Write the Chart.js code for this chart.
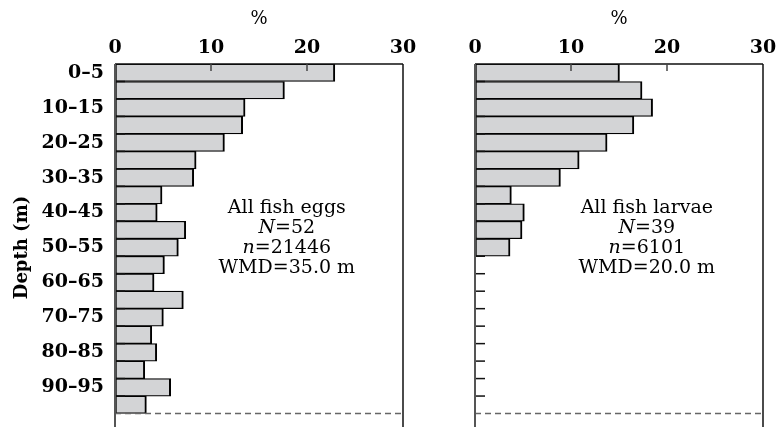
<!DOCTYPE html>
<html lang="en">
<head>
    <meta charset="UTF-8">
    <title>Fish eggs and larvae by depth</title>
    <script src="https://cdn.jsdelivr.net/npm/chart.js"></script>
</head>
<body style="margin:0;overflow:hidden;background:#fff">
    <div style="position:relative;width:776px;height:427px;overflow:hidden">
        <canvas id="eggsChart" width="420" height="431" style="position:absolute;left:0;top:0"></canvas>
        <canvas id="larvaeChart" width="356" height="431" style="position:absolute;left:420px;top:0"></canvas>
    </div>
    <script>
        // depth classes (m), last one is the empty row cut off below the dashed line
        var depthLabels = ['0–5', '5–10', '10–15', '15–20', '20–25', '25–30', '30–35', '35–40', '40–45', '45–50',
                           '50–55', '55–60', '60–65', '65–70', '70–75', '75–80', '80–85', '85–90', '90–95', '95–100', ''];
        // % of catch per depth class
        var eggsPct   = [22.9, 17.65, 13.55, 13.3, 11.4, 8.45, 8.2, 4.9, 4.4, 7.37,
                         6.6, 5.15, 4.07, 7.12, 5.04, 3.83, 4.35, 3.1, 5.8, 3.27, null];
        var larvaePct = [15.05, 17.4, 18.5, 16.55, 13.76, 10.85, 8.9, 3.79, 5.14, 4.9,
                         3.65, null, null, null, null, null, null, null, null, null, null];
        var xTicks = [0, 10, 20, 30];
        var eggsNote   = [[['All fish eggs', 'normal']], [['N', 'italic'], ['=52', 'normal']],
                          [['n', 'italic'], ['=21446', 'normal']], [['WMD=35.0 m', 'normal']]];
        var larvaeNote = [[['All fish larvae', 'normal']], [['N', 'italic'], ['=39', 'normal']],
                          [['n', 'italic'], ['=6101', 'normal']], [['WMD=20.0 m', 'normal']]];

        var FONT = 'DejaVu Serif';
        Chart.defaults.font.family = FONT;
        Chart.defaults.color = '#000';

        var framePlugin = {
            id: 'frame',
            afterDatasetsDraw: function(chart, args, opts) {
                var ctx = chart.ctx, a = chart.chartArea;
                var xs = chart.scales.x, ys = chart.scales.y;
                ctx.save();
                // row boundaries
                var bounds = [];
                for (var i = 0; i < depthLabels.length - 1; i++) {
                    bounds.push((ys.getPixelForValue(i) + ys.getPixelForValue(i + 1)) / 2);
                }
                // small inner ticks on the depth axis
                ctx.strokeStyle = '#111';
                ctx.lineWidth = 1.5;
                for (var b = 0; b < bounds.length - 1; b++) {
                    ctx.beginPath();
                    ctx.moveTo(a.left, bounds[b]);
                    ctx.lineTo(a.left + 10, bounds[b]);
                    ctx.stroke();
                }
                // dashed line at 100 m
                var yEnd = bounds[bounds.length - 1];
                ctx.strokeStyle = '#666';
                ctx.setLineDash([6, 4]);
                ctx.beginPath();
                ctx.moveTo(a.left, yEnd);
                ctx.lineTo(a.right, yEnd);
                ctx.stroke();
                ctx.setLineDash([]);
                // frame: top, left, right
                ctx.strokeStyle = '#111';
                ctx.lineWidth = 1.5;
                ctx.beginPath();
                ctx.moveTo(a.left, a.top);
                ctx.lineTo(a.right, a.top);
                ctx.moveTo(a.right, a.top);
                ctx.lineTo(a.right, a.bottom);
                ctx.stroke();
                ctx.strokeStyle = '#555';
                ctx.lineWidth = 2;
                ctx.beginPath();
                ctx.moveTo(a.left, a.top);
                ctx.lineTo(a.left, a.bottom);
                ctx.stroke();
                // inner ticks at 10 and 20 %
                ctx.strokeStyle = '#444';
                ctx.lineWidth = 1.5;
                [10, 20].forEach(function(v) {
                    var px = xs.getPixelForValue(v);
                    ctx.beginPath();
                    ctx.moveTo(px, a.top);
                    ctx.lineTo(px, a.top + 7);
                    ctx.stroke();
                });
                // annotation text
                var cx = xs.getPixelForValue(17.9);
                var y0 = ys.getPixelForValue(8);
                ctx.fillStyle = '#000';
                ctx.textBaseline = 'alphabetic';
                ctx.textAlign = 'left';
                opts.note.forEach(function(line, k) {
                    var w = 0;
                    line.forEach(function(seg) {
                        ctx.font = seg[1] + ' 19px "' + FONT + '"';
                        w += ctx.measureText(seg[0]).width;
                    });
                    var x = cx - w / 2;
                    line.forEach(function(seg) {
                        ctx.font = seg[1] + ' 19px "' + FONT + '"';
                        ctx.fillText(seg[0], x, y0 + k * 20.2);
                        x += ctx.measureText(seg[0]).width;
                    });
                });
                ctx.restore();
            }
        };

        function makeChart(id, values, showLabels, yWidth, padRight, note) {
            var ctx = document.getElementById(id).getContext('2d');
            return new Chart(ctx, {
                type: 'bar',
                data: {
                    labels: depthLabels,
                    datasets: [{
                        data: values,
                        backgroundColor: '#d3d4d6',
                        borderColor: '#000',
                        borderWidth: {top: 1.25, bottom: 1.25, left: 2, right: 2},
                        borderSkipped: false,
                        barPercentage: 1,
                        categoryPercentage: 1
                    }]
                },
                options: {
                    indexAxis: 'y',
                    responsive: false,
                    animation: false,
                    layout: {padding: {left: 0, right: padRight, top: 0, bottom: 0}},
                    plugins: {
                        legend: {display: false},
                        tooltip: {enabled: false},
                        frame: {note: note}
                    },
                    scales: {
                        x: {
                            type: 'linear',
                            position: 'top',
                            min: 0,
                            max: 30,
                            afterBuildTicks: function(scale) {
                                scale.ticks = xTicks.map(function(v) { return {value: v}; });
                            },
                            afterFit: function(scale) {
                                scale.height = 64;
                                scale.paddingLeft = 0;
                                scale.paddingRight = 0;
                            },
                            grid: {display: false},
                            border: {display: false},
                            ticks: {padding: -3, font: {size: 19, weight: 'bold'}, color: '#000'},
                            title: {display: true, text: '%', font: {size: 18}, color: '#000', padding: {top: 9, bottom: 0}}
                        },
                        y: {
                            type: 'category',
                            afterFit: function(scale) {
                                scale.width = yWidth;
                                scale.paddingTop = 0;
                                scale.paddingBottom = 0;
                            },
                            grid: {display: false},
                            border: {display: false},
                            ticks: {
                                display: showLabels,
                                autoSkip: false,
                                padding: 3,
                                font: {size: 19, weight: 'bold'},
                                color: '#000',
                                callback: function(val, i) { return i % 2 === 0 ? depthLabels[i] : ''; }
                            },
                            title: {display: showLabels, text: 'Depth (m)', font: {size: 18, weight: 'bold'}, color: '#000', padding: {top: 12, bottom: 0}}
                        }
                    }
                },
                plugins: [framePlugin]
            });
        }

        var eggsChart = makeChart('eggsChart', eggsPct, true, 115, 17, eggsNote);
        var larvaeChart = makeChart('larvaeChart', larvaePct, false, 55, 13, larvaeNote);
    </script>
</body>
</html>
